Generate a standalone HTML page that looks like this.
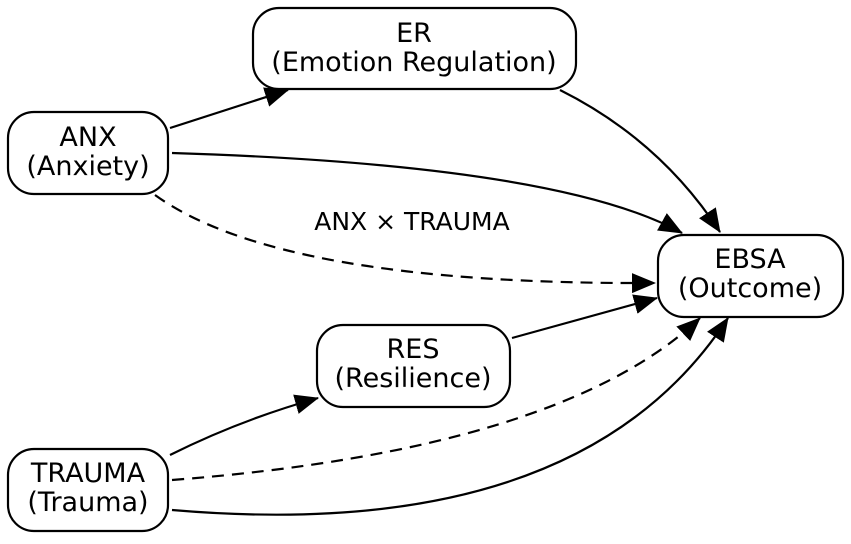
<!DOCTYPE html>
<html><head><style>
html,body{margin:0;padding:0;background:#fff;}
svg text{font-family:"DejaVu Sans","Liberation Sans",sans-serif;}
</style></head><body>
<svg width="851" height="539" viewBox="0 0 851 539" xmlns="http://www.w3.org/2000/svg">
<defs>
<marker id="a" markerWidth="24" markerHeight="20" refX="23" refY="10" orient="auto" markerUnits="userSpaceOnUse">
<path d="M0,0 L24,10 L0,20 z" fill="#000"/>
</marker>
</defs>
<g fill="#fff" stroke="#000" stroke-width="2.2">
<rect x="253" y="8" width="323" height="81" rx="26"/>
<rect x="8" y="112" width="160" height="82" rx="26"/>
<rect x="658" y="235" width="185" height="82" rx="26"/>
<rect x="317" y="325" width="193" height="82" rx="26"/>
<rect x="8" y="449" width="160" height="82" rx="26"/>
</g>
<g fill="none" stroke="#000" stroke-width="2.2">
<path d="M170,128 L288,90" marker-end="url(#a)"/>
<path d="M560,90 Q660,140 720,232" marker-end="url(#a)"/>
<path d="M172,153 Q560,165 682,233" marker-end="url(#a)"/>
<path d="M155,195 Q280,285 655,283" stroke-dasharray="12,8" marker-end="url(#a)"/>
<path d="M512,338 L657,298" marker-end="url(#a)"/>
<path d="M170,455 Q240,420 318,398" marker-end="url(#a)"/>
<path d="M172,480 Q560,450 700,318" stroke-dasharray="12,8" marker-end="url(#a)"/>
<path d="M172,510 Q580,545 728,318" marker-end="url(#a)"/>
</g>
<g font-size="27" text-anchor="middle" fill="#000">
<text x="414" y="42">ER</text>
<text x="414" y="71">(Emotion Regulation)</text>
<text x="88" y="146">ANX</text>
<text x="88" y="175">(Anxiety)</text>
<text x="750" y="268">EBSA</text>
<text x="750" y="297">(Outcome)</text>
<text x="413" y="358">RES</text>
<text x="413" y="387">(Resilience)</text>
<text x="88" y="482">TRAUMA</text>
<text x="88" y="511">(Trauma)</text>
<text x="412" y="230" font-size="25">ANX × TRAUMA</text>
</g>
</svg>
</body></html>
